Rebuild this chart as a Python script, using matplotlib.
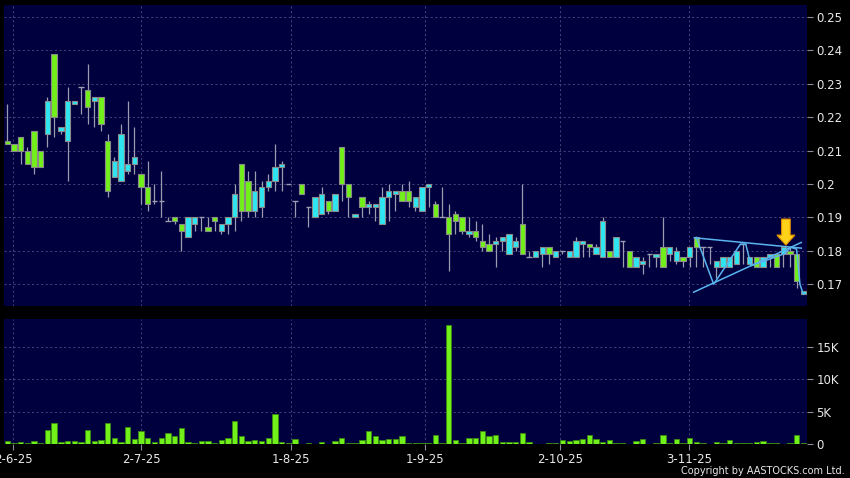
import matplotlib
matplotlib.use("Agg")
import matplotlib.pyplot as plt
from matplotlib.patches import Rectangle, FancyArrow

# ---------------- data ----------------
opens = [0.213, 0.212, 0.214, 0.210, 0.216, 0.210, 0.215, 0.239, 0.216, 0.213,
         0.224, 0.229, 0.228, 0.225, 0.226, 0.213, 0.202, 0.201, 0.204, 0.206,
         0.203, 0.199, 0.195, 0.195, 0.189, 0.190, 0.188, 0.184, 0.188, 0.190,
         0.187, 0.190, 0.186, 0.188, 0.190, 0.206, 0.201, 0.192, 0.193, 0.199,
         0.201, 0.205, 0.200, 0.195, 0.200, 0.193, 0.190, 0.191, 0.195, 0.192,
         0.211, 0.200, 0.190, 0.196, 0.193, 0.193, 0.188, 0.196, 0.197, 0.198,
         0.198, 0.193, 0.192, 0.199, 0.194, 0.190, 0.190, 0.191, 0.190, 0.185,
         0.186, 0.183, 0.182, 0.182, 0.183, 0.179, 0.181, 0.188, 0.178, 0.178,
         0.179, 0.181, 0.178, 0.180, 0.178, 0.178, 0.182, 0.182, 0.179, 0.178,
         0.180, 0.178, 0.183, 0.180, 0.175, 0.176, 0.179, 0.178, 0.181, 0.179,
         0.177, 0.178, 0.178, 0.184, 0.181, 0.181, 0.175, 0.175, 0.175, 0.176,
         0.182, 0.176, 0.178, 0.175, 0.178, 0.179, 0.179, 0.180, 0.179, 0.167]
highs = [0.224, 0.212, 0.214, 0.211, 0.216, 0.210, 0.226, 0.239, 0.217, 0.229,
         0.225, 0.229, 0.236, 0.226, 0.226, 0.215, 0.208, 0.218, 0.225, 0.217,
         0.203, 0.207, 0.200, 0.204, 0.190, 0.190, 0.188, 0.190, 0.190, 0.190,
         0.190, 0.190, 0.188, 0.190, 0.200, 0.206, 0.204, 0.204, 0.201, 0.203,
         0.212, 0.207, 0.200, 0.195, 0.200, 0.193, 0.196, 0.199, 0.195, 0.197,
         0.211, 0.200, 0.191, 0.196, 0.195, 0.194, 0.199, 0.200, 0.198, 0.200,
         0.201, 0.196, 0.199, 0.200, 0.195, 0.199, 0.194, 0.192, 0.190, 0.190,
         0.189, 0.188, 0.185, 0.184, 0.184, 0.185, 0.184, 0.200, 0.180, 0.180,
         0.181, 0.181, 0.180, 0.180, 0.180, 0.184, 0.183, 0.182, 0.182, 0.190,
         0.180, 0.184, 0.183, 0.180, 0.178, 0.178, 0.179, 0.179, 0.190, 0.181,
         0.181, 0.178, 0.181, 0.184, 0.181, 0.181, 0.177, 0.178, 0.178, 0.180,
         0.182, 0.178, 0.178, 0.178, 0.179, 0.179, 0.181, 0.181, 0.179, 0.168]
lows = [0.212, 0.210, 0.206, 0.206, 0.203, 0.205, 0.211, 0.214, 0.215, 0.201,
        0.224, 0.221, 0.218, 0.217, 0.216, 0.196, 0.202, 0.201, 0.203, 0.203,
        0.194, 0.192, 0.194, 0.190, 0.189, 0.188, 0.180, 0.184, 0.186, 0.186,
        0.186, 0.186, 0.185, 0.185, 0.186, 0.189, 0.190, 0.190, 0.190, 0.198,
        0.198, 0.198, 0.200, 0.190, 0.197, 0.187, 0.190, 0.191, 0.191, 0.192,
        0.195, 0.190, 0.190, 0.190, 0.191, 0.189, 0.188, 0.189, 0.192, 0.195,
        0.193, 0.192, 0.192, 0.193, 0.190, 0.190, 0.174, 0.185, 0.185, 0.184,
        0.183, 0.180, 0.180, 0.175, 0.180, 0.179, 0.180, 0.179, 0.178, 0.178,
        0.175, 0.176, 0.178, 0.179, 0.178, 0.178, 0.178, 0.178, 0.179, 0.178,
        0.178, 0.178, 0.175, 0.175, 0.175, 0.173, 0.175, 0.175, 0.175, 0.177,
        0.176, 0.175, 0.175, 0.175, 0.175, 0.176, 0.172, 0.175, 0.175, 0.176,
        0.176, 0.176, 0.175, 0.175, 0.175, 0.175, 0.175, 0.175, 0.169, 0.167]
closes = [0.212, 0.210, 0.210, 0.206, 0.205, 0.205, 0.225, 0.220, 0.217, 0.225,
          0.225, 0.229, 0.223, 0.226, 0.218, 0.198, 0.207, 0.215, 0.206, 0.208,
          0.199, 0.194, 0.195, 0.195, 0.189, 0.189, 0.186, 0.190, 0.190, 0.190,
          0.186, 0.189, 0.188, 0.190, 0.197, 0.192, 0.192, 0.198, 0.199, 0.201,
          0.205, 0.206, 0.200, 0.195, 0.197, 0.193, 0.196, 0.197, 0.192, 0.197,
          0.200, 0.196, 0.191, 0.193, 0.194, 0.194, 0.196, 0.198, 0.198, 0.195,
          0.195, 0.196, 0.199, 0.200, 0.190, 0.190, 0.185, 0.189, 0.186, 0.186,
          0.184, 0.181, 0.180, 0.183, 0.184, 0.185, 0.183, 0.179, 0.178, 0.180,
          0.181, 0.179, 0.180, 0.180, 0.180, 0.183, 0.183, 0.181, 0.181, 0.189,
          0.178, 0.184, 0.183, 0.175, 0.178, 0.177, 0.179, 0.179, 0.175, 0.181,
          0.180, 0.177, 0.181, 0.181, 0.181, 0.181, 0.177, 0.178, 0.178, 0.180,
          0.182, 0.178, 0.175, 0.178, 0.179, 0.175, 0.181, 0.179, 0.171, 0.168]
volumes_k = [0.5, 0.15, 0.35, 0.1, 0.4, 0.15, 2.1, 3.3, 0.25, 0.4,
             0.5, 0.35, 2.1, 0.5, 0.6, 3.2, 1.0, 0.25, 2.6, 0.7,
             2.0, 1.0, 0.3, 1.0, 1.65, 1.25, 2.4, 0.3, 0.2, 0.4,
             0.5, 0.1, 0.65, 1.0, 3.6, 1.3, 0.4, 0.6, 0.4, 0.9,
             4.6, 0.25, 0.1, 0.8, 0.05, 0.1, 0.05, 0.35, 0.05, 0.4,
             1.0, 0.15, 0.2, 0.55, 1.95, 1.25, 0.55, 0.7, 0.8, 1.3,
             0.1, 0.2, 0.15, 0.15, 1.45, 0.1, 18.35, 0.6, 0.1, 0.9,
             1.0, 2.05, 1.3, 1.45, 0.25, 0.3, 0.3, 1.7, 0.35, 0.05,
             0.05, 0.2, 0.2, 0.65, 0.5, 0.65, 0.8, 1.35, 0.8, 0.25,
             0.65, 0.15, 0.15, 0.05, 0.5, 0.75, 0.05, 0.15, 1.45, 0.15,
             0.8, 0.2, 1.0, 0.35, 0.15, 0.05, 0.3, 0.2, 0.55, 0.1,
             0.1, 0.1, 0.3, 0.4, 0.2, 0.1, 0.05, 0.2, 1.45, 0.1]

price_ticks = [0.17, 0.18, 0.19, 0.20, 0.21, 0.22, 0.23, 0.24, 0.25]
price_tick_labels = ["0.17", "0.18", "0.19", "0.2", "0.21", "0.22", "0.23", "0.24", "0.25"]
vol_ticks_k = [0, 5, 10, 15]
vol_tick_labels = ["0", "5K", "10K", "15K"]
date_labels = ["2-6-25", "2-7-25", "1-8-25", "1-9-25", "2-10-25", "3-11-25"]
date_bar_index = [0.9, 20.0, 42.4, 62.5, 82.6, 101.9]

# pattern annotation (bar index, price)
upper_line = [(102.7, 0.1839), (118.7, 0.1808)]
lower_line = [(102.6, 0.1676), (118.7, 0.1825)]
zigzag = [(103.0, 0.1840), (105.6, 0.1700), (109.6, 0.1820), (110.4, 0.1820),
          (111.2, 0.1755), (116.0, 0.1790), (117.2, 0.1810), (118.0, 0.1805),
          (118.5, 0.1700), (119.0, 0.1670)]
arrow_bar = 116.4

# ---------------- style ----------------
BG = "#00003e"
GREEN = "#72f01a"
CYAN = "#2ee6f2"
EDGE = "#8a8a8a"
WICK = "#9c9cb0"
GRID = "#4e4e80"
TICK = "#8a8aa0"
TXT = "#e8e8e8"

fig = plt.figure(figsize=(8.5, 4.78), dpi=100, facecolor="black")
W, H = 850.0, 478.0
axp = fig.add_axes([4 / W, 1 - 306 / H, (807.3 - 4) / W, (306 - 5) / H], facecolor=BG)
axv = fig.add_axes([4 / W, 1 - 444 / H, (807.3 - 4) / W, (444 - 319) / H], facecolor=BG)

n = len(opens)
bw = 0.8
for i in range(n):
    o, h, l, c = opens[i], highs[i], lows[i], closes[i]
    axp.vlines(i, l, h, color=WICK, lw=0.9, zorder=2)
    if c > o:
        axp.add_patch(Rectangle((i - bw / 2, o), bw, c - o, facecolor=CYAN,
                                edgecolor=EDGE, lw=0.8, zorder=3))
    elif c < o:
        axp.add_patch(Rectangle((i - bw / 2, c), bw, o - c, facecolor=GREEN,
                                edgecolor=EDGE, lw=0.8, zorder=3))
    else:
        axp.hlines(o, i - bw / 2, i + bw / 2, color=WICK, lw=1.0, zorder=3)

axv.bar(range(n), volumes_k, width=0.8, color=GREEN, edgecolor="#3a8a10",
        lw=0.6, zorder=3)

# pattern lines
for seg in (upper_line, lower_line, zigzag):
    xs, ys = zip(*seg)
    axp.plot(xs, ys, color="#5ab4ee", lw=1.1, zorder=4)
axp.add_patch(FancyArrow(arrow_bar, 0.1895, 0, -0.0078, width=1.3, head_width=2.7,
                         head_length=0.0030, length_includes_head=True,
                         facecolor="#ffd21a", edgecolor="#e08a00", lw=0.8, zorder=6))

# axes
xlim = (-0.5, 119.6)
for ax in (axp, axv):
    ax.set_xlim(*xlim)
    for s in ax.spines.values():
        s.set_visible(False)
    ax.yaxis.tick_right()
    ax.tick_params(axis="y", colors=TICK, labelcolor=TXT, length=4, width=0.8,
                   pad=2.5, labelsize=8.5)
    for xv in date_bar_index:
        ax.axvline(xv, color=GRID, lw=0.6, ls=(0, (2.5, 3)), zorder=1)

axp.set_ylim(0.16347, 0.2536)
axp.set_yticks(price_ticks)
axp.set_yticklabels(price_tick_labels)
for yv in price_ticks:
    axp.axhline(yv, color=GRID, lw=0.6, ls=(0, (2.5, 3)), zorder=1)
axp.set_xticks([])

axv.set_ylim(0, 19.35)
axv.set_yticks(vol_ticks_k)
axv.set_yticklabels(vol_tick_labels)
for yv in vol_ticks_k[1:]:
    axv.axhline(yv, color=GRID, lw=0.6, ls=(0, (2.5, 3)), zorder=1)
axv.set_xticks(date_bar_index)
axv.set_xticklabels(date_labels)
axv.tick_params(axis="x", colors=TICK, labelcolor=TXT, length=4, width=0.8,
                pad=2.5, labelsize=8.5)

fig.text(845 / W, 1 - 471 / H, "Copyright by AASTOCKS.com Ltd.", color=TXT,
         fontsize=7, ha="right", va="center")

fig.savefig("out.png", dpi=100, facecolor="black")
